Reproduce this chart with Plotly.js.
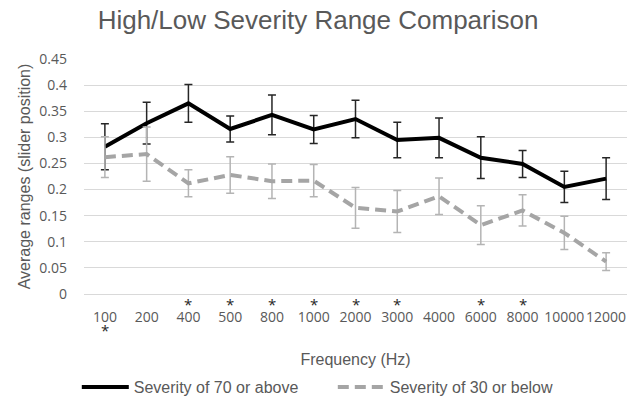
<!DOCTYPE html>
<html>
<head>
<meta charset="utf-8">
<script src="https://cdn.plot.ly/plotly-3.0.1.min.js"></script>
<style>html,body{margin:0;padding:0;background:#fff;}#chart{width:640px;height:396px;}</style>
</head>
<body>
<div id="chart"></div>
<script>
// Categories (frequency, Hz)
var frequencies = ["100","200","400","500","800","1000","2000","3000","4000","6000","8000","10000","12000"];
// Series: Severity of 70 or above
var highSeverity = [0.282,0.327,0.365,0.316,0.343,0.315,0.335,0.295,0.299,0.261,0.249,0.205,0.221];
var highError    = [0.044,0.040,0.036,0.025,0.038,0.027,0.036,0.034,0.038,0.040,0.026,0.030,0.040];
// Series: Severity of 30 or below
var lowSeverity  = [0.262,0.268,0.212,0.228,0.216,0.217,0.165,0.158,0.187,0.132,0.160,0.117,0.062];
var lowError     = [0.039,0.052,0.026,0.035,0.033,0.031,0.039,0.040,0.035,0.037,0.030,0.032,0.017];
// Significance markers
var sigAbove = ["400","500","800","1000","2000","3000","6000","8000"];
var sigBelow = ["100"];
var yTicks = [0,0.05,0.1,0.15,0.2,0.25,0.3,0.35,0.4,0.45];
var yTickLabels = ["0","0.05","0.1","0.15","0.2","0.25","0.3","0.35","0.4","0.45"];

var traces = [
  {
    x: frequencies, y: highSeverity, type: 'scatter', mode: 'lines',
    name: 'Severity of 70 or above',
    line: {color: '#000000', width: 4},
    error_y: {type: 'data', array: highError, visible: true, color: '#262626', thickness: 1.5, width: 4}
  },
  {
    x: frequencies, y: lowSeverity, type: 'scatter', mode: 'lines',
    name: 'Severity of 30 or below',
    line: {color: '#a5a5a5', width: 4, dash: '11px,6px'},
    error_y: {type: 'data', array: lowError, visible: true, color: '#b4b4b4', thickness: 1.5, width: 4}
  }
];

var annotations = [];
sigAbove.forEach(function(f){
  annotations.push({x: frequencies.indexOf(f), xref: 'x', y: -0.041, yref: 'paper', text: '*', showarrow: false,
    yanchor: 'middle', font: {family: 'Open Sans', size: 15, color: '#262626'}});
});
sigBelow.forEach(function(f){
  annotations.push({x: frequencies.indexOf(f), xref: 'x', y: -0.152, yref: 'paper', text: '*', showarrow: false,
    yanchor: 'middle', font: {family: 'Open Sans', size: 15, color: '#262626'}});
});

var layout = {
  width: 640, height: 396,
  margin: {l: 84, r: 13, t: 59, b: 102},
  paper_bgcolor: '#ffffff', plot_bgcolor: '#ffffff',
  title: {text: 'High/Low Severity Range Comparison', font: {family: 'Liberation Sans, Arial', size: 26, color: '#595959'},
    x: 0.431, xanchor: 'center', xref: 'paper', y: 0.95, yanchor: 'middle', yref: 'container'},
  xaxis: {
    type: 'category', tickangle: 0, range: [-0.5, frequencies.length - 0.5], autorange: false,
    tickfont: {family: 'Open Sans', size: 14, color: '#595959'},
    showgrid: false, showline: true, linecolor: '#d9d9d9', linewidth: 1,
    ticks: '', ticklabelstandoff: 10, zeroline: false,
    title: {text: 'Frequency (Hz)', font: {family: 'Liberation Sans, Arial', size: 16, color: '#595959'}, standoff: 29}
  },
  yaxis: {
    range: [0, 0.45], autorange: false, tickvals: yTicks, ticktext: yTickLabels,
    tickfont: {family: 'Open Sans', size: 14, color: '#595959'},
    showgrid: true, gridcolor: '#d9d9d9', gridwidth: 1, zeroline: true, zerolinecolor: '#d9d9d9',
    showline: false, ticks: '', ticklabelstandoff: 16,
    title: {text: 'Average ranges (slider position)', font: {family: 'Liberation Sans, Arial', size: 16, color: '#595959'}, standoff: 4}
  },
  showlegend: true,
  legend: {orientation: 'h', x: 0.12, xanchor: 'left', xref: 'container', y: 0.0227, yanchor: 'middle', yref: 'container',
    font: {family: 'Liberation Sans, Arial', size: 16, color: '#595959'},
    entrywidth: 194, itemwidth: 47, bgcolor: 'rgba(0,0,0,0)'},
  annotations: annotations
};

Plotly.newPlot('chart', traces, layout, {displayModeBar: false, staticPlot: true});
</script>
</body>
</html>
